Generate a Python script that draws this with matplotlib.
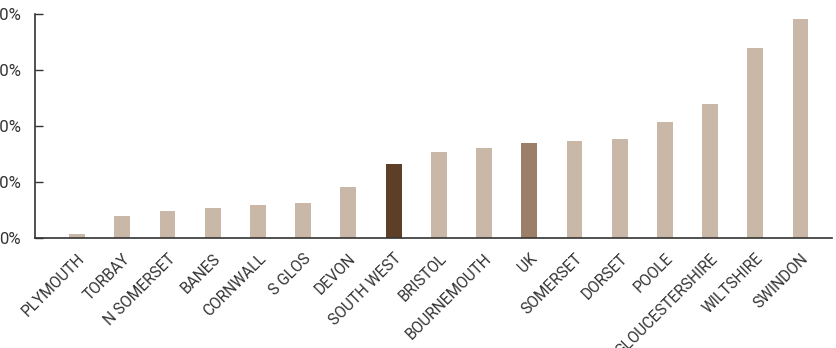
import matplotlib
matplotlib.use('Agg')
import matplotlib.pyplot as plt
import numpy as np

areas = ['PLYMOUTH', 'TORBAY', 'N SOMERSET', 'BANES', 'CORNWALL', 'S GLOS', 'DEVON',
         'SOUTH WEST', 'BRISTOL', 'BOURNEMOUTH', 'UK', 'SOMERSET', 'DORSET', 'POOLE',
         'GLOUCESTERSHIRE', 'WILTSHIRE', 'SWINDON']
growth = [0.8, 4.0, 4.9, 5.4, 5.9, 6.4, 9.2, 13.2, 15.4, 16.2, 17.0, 17.4, 17.7,
          20.8, 23.9, 33.9, 39.2]
yticks = [0, 10, 20, 30, 40]

light = '#c9b8a8'
colors = [light] * len(areas)
colors[areas.index('SOUTH WEST')] = '#5c3f26'
colors[areas.index('UK')] = '#9b7f68'

plt.rcParams['font.family'] = ['Roboto', 'DejaVu Sans']

fig = plt.figure(figsize=(8.36, 3.48), dpi=100)
ax = fig.add_axes([0.0419, 0.315, 0.953, 0.644])

x = np.arange(len(areas))
ax.bar(x, growth, width=0.35, color=colors)

ax.set_xlim(-0.93, len(areas) - 1 + 0.69)
ax.set_ylim(0, 40)
ax.set_yticks(yticks)
ax.set_yticklabels([str(v) + '%' for v in yticks], fontsize=12, color='#333333')
ax.set_xticks(x)
ax.set_xticklabels(areas, rotation=45, ha='right', rotation_mode='anchor',
                   fontsize=11.2, color='#333333')

ax.tick_params(axis='y', direction='in', length=6, width=1, color='#333333', pad=10)
ax.tick_params(axis='x', length=0, pad=9)
for s in ['top', 'right']:
    ax.spines[s].set_visible(False)
for s in ['left', 'bottom']:
    ax.spines[s].set_color('#333333')
    ax.spines[s].set_linewidth(1.2)

fig.savefig('out.png', dpi=100)
